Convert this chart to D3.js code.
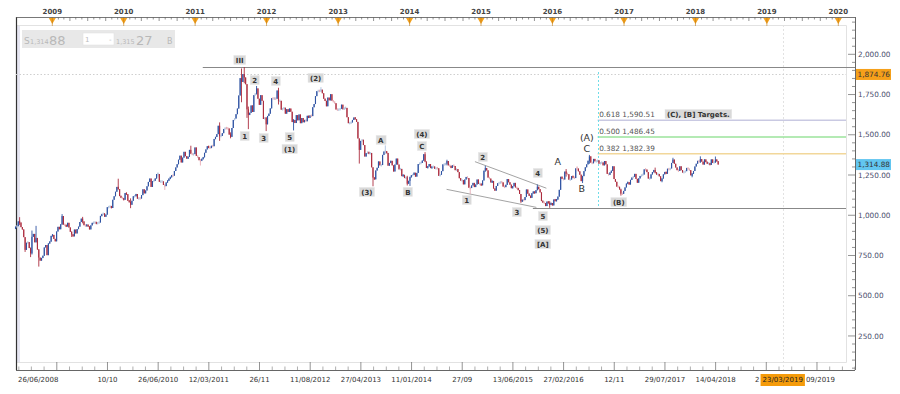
<!DOCTYPE html>
<html><head><meta charset="utf-8">
<script src="https://cdn.jsdelivr.net/npm/d3@7"></script>
<style>
body{margin:0;background:#fff}
svg{display:block}
text{font-family:"DejaVu Sans",Verdana,sans-serif}
</style>
</head><body>
<svg id="c" width="900" height="394"></svg>
<script>
// ---------- DATA (weekly gold, XAU/USD) ----------
const firstOpen = 915;
const yearStarts = ["2008-06-27","2009-01-02","2010-01-01","2011-01-07","2012-01-06","2013-01-04","2014-01-03","2015-01-02","2016-01-01","2017-01-06","2018-01-05"];
const close2008 = [929,932,962,955,926,912,864,785,829,833,796,763,866,884,832,859,787,737,718,735,748,800,815,752,825,836,872];
const close2009 = [878,853,838,899,928,913,944,995,942,939,930,953,924,897,881,869,911,887,914,929,958,979,962,938,934,940,931,912,937,953,954,956,948,953,955,996,1006,1012,991,1004,1050,1051,1056,1045,1096,1118,1146,1176,1162,1119,1110,1104];
const close2010 = [1096,1138,1131,1090,1083,1065,1090,1118,1118,1132,1103,1106,1104,1125,1161,1136,1154,1180,1207,1228,1176,1212,1215,1228,1256,1256,1208,1210,1210,1188,1181,1204,1215,1227,1237,1247,1246,1275,1297,1317,1345,1370,1328,1358,1394,1367,1352,1363,1406,1384,1377,1380,1421];
const close2011 = [1369,1361,1342,1340,1349,1360,1388,1409,1429,1420,1418,1431,1429,1474,1486,1504,1556,1491,1493,1510,1536,1542,1541,1539,1501,1487,1542,1592,1601,1628,1663,1744,1852,1828,1877,1856,1814,1658,1624,1636,1682,1642,1746,1755,1788,1724,1686,1746,1711,1598,1606,1565];
const close2012 = [1617,1631,1664,1727,1725,1725,1724,1775,1711,1711,1656,1662,1668,1631,1659,1642,1663,1643,1579,1592,1573,1622,1590,1626,1572,1604,1578,1592,1584,1618,1605,1620,1616,1671,1691,1740,1771,1773,1772,1780,1758,1724,1711,1677,1731,1714,1752,1712,1705,1696,1657,1656];
const close2013 = [1656,1662,1687,1658,1667,1667,1609,1572,1573,1577,1592,1607,1597,1580,1477,1406,1462,1469,1436,1365,1386,1392,1383,1387,1298,1234,1223,1278,1295,1334,1310,1312,1375,1396,1396,1387,1308,1325,1338,1310,1272,1315,1352,1315,1285,1288,1243,1251,1231,1236,1196,1214];
const close2014 = [1237,1247,1252,1264,1240,1263,1318,1323,1326,1339,1379,1334,1294,1303,1318,1293,1301,1302,1290,1293,1292,1245,1252,1274,1316,1316,1320,1337,1310,1307,1294,1310,1306,1280,1287,1268,1230,1216,1218,1192,1222,1238,1231,1171,1169,1185,1201,1175,1191,1222,1195,1195];
const close2015 = [1186,1216,1277,1293,1279,1234,1228,1204,1213,1166,1153,1182,1199,1200,1207,1204,1178,1175,1189,1225,1205,1190,1168,1180,1201,1173,1168,1157,1132,1086,1095,1094,1113,1160,1134,1121,1108,1137,1146,1137,1156,1177,1162,1142,1088,1081,1076,1057,1085,1075,1066,1076];
const close2016 = [1061,1098,1089,1097,1116,1158,1239,1227,1222,1271,1259,1255,1221,1222,1243,1234,1231,1291,1290,1273,1252,1212,1243,1274,1298,1316,1339,1366,1327,1323,1350,1335,1335,1341,1320,1326,1328,1310,1337,1316,1257,1251,1266,1275,1304,1225,1208,1178,1177,1160,1134,1133,1151];
const close2017 = [1173,1197,1205,1191,1220,1234,1239,1257,1226,1202,1229,1244,1249,1253,1285,1284,1268,1228,1228,1254,1268,1280,1266,1254,1256,1242,1212,1228,1254,1269,1258,1289,1284,1291,1325,1346,1320,1297,1280,1275,1304,1280,1266,1269,1274,1294,1287,1280,1248,1257,1275,1303];
const close2018 = [1320,1338,1332,1349,1333,1315,1347,1330,1322,1323,1313,1347,1325,1332,1345,1336,1315];
// notable weekly extremes [week, high, low]
const wicks = [
 ["2008-07-18",988,940],["2008-08-15",860,772],["2008-09-12",800,740],["2008-09-19",905,756],["2008-10-10",934,831],["2008-10-24",790,681],
 ["2009-02-20",1007,940],["2009-04-10",900,865],["2009-06-05",990,950],["2009-12-04",1227,1160],
 ["2010-02-05",1105,1044],["2010-06-25",1265,1235],["2010-07-30",1190,1157],["2010-12-10",1432,1380],
 ["2011-01-28",1345,1309],["2011-05-06",1577,1462],["2011-07-01",1515,1478],["2011-08-26",1912,1702],["2011-09-09",1921,1820],["2011-09-23",1815,1605],["2011-09-30",1675,1535],["2011-11-11",1803,1750],["2011-12-30",1610,1523],
 ["2012-03-02",1792,1688],["2012-05-18",1597,1527],["2012-10-05",1796,1766],
 ["2013-04-19",1439,1321],["2013-06-28",1298,1180],["2013-08-30",1434,1380],["2013-12-20",1245,1185],
 ["2014-01-03",1240,1182],["2014-03-21",1392,1330],["2014-07-11",1345,1310],["2014-11-07",1175,1131],
 ["2015-01-23",1307,1270],["2015-07-24",1105,1077],["2015-10-16",1191,1155],["2015-12-18",1088,1046],
 ["2016-03-11",1287,1240],["2016-05-06",1304,1275],["2016-06-03",1245,1200],["2016-07-08",1375,1320],["2016-12-16",1165,1122],
 ["2017-06-09",1296,1260],["2017-07-14",1230,1205],["2017-09-08",1357,1325],["2017-12-15",1260,1236],
 ["2018-01-26",1366,1325],["2018-04-13",1365,1325]
];
// axis labels
const yearLabels = ["2009","2010","2011","2012","2013","2014","2015","2016","2017","2018","2019","2020"];
const yTickValues = [250,500,750,1000,1250,1500,1750,2000];
const dateLabels = [
 ["2009-01-24",""],["2009-10-10","10/10"],["2010-06-26","26/06/2010"],["2011-03-12","12/03/2011"],["2011-11-26","26/11"],
 ["2012-08-11","11/08/2012"],["2013-04-27","27/04/2013"],["2014-01-11","11/01/2014"],["2014-09-27","27/09"],
 ["2015-06-13","13/06/2015"],["2016-02-27","27/02/2016"],["2016-11-12","12/11"],["2017-07-29","29/07/2017"],
 ["2018-04-14","14/04/2018"],["2018-12-29",""],["2019-09-14",""]
];
const startLabel = "26/06/2008";
const hiddenLeftFragment = "2";       // visible end of the label covered by the cursor box
const hiddenRightFragment = "09/2019"; // visible end of the label covered by the cursor box
// levels & annotations
const majorHigh = {date:"2011-02-09", value:1921};
const supportLow = {date:"2015-09-23", value:1046};
const fibStart = "2016-08-19";
const fibLevels = [[0.618,1590.51,"#c9c9e2"],[0.500,1486.45,"#9be39b"],[0.382,1382.39,"#f2d79a"]];
const fibTop = 1890;
const lastHigh = 1874.76;
const lastPrice = 1314.88;
const bidPrice = "1,315"; const bidPip = "27";
const askPrice = "1,314"; const askPip = "88";
const crossDate = "2019-03-23"; const crossLabel = "23/03/2019";
const wedgeUpper = [["2014-12-01",1333],["2015-12-01",1168]];
const wedgeLower = [["2014-07-09",1161],["2015-10-11",1049]];
const boxLabels = [
 ["2011-08-17",1965,"III"],["2011-09-11",1492,"1"],["2011-11-01",1840,"2"],["2011-12-17",1480,"3"],["2012-02-17",1834,"4"],
 ["2012-04-28",1486,"5"],["2012-04-28",1412,"(1)"],["2012-09-08",1853,"(2)"],["2013-05-28",1145,"(3)"],["2013-08-07",1468,"A"],
 ["2013-12-23",1145,"B"],["2014-03-05",1505,"(4)"],["2014-03-05",1430,"C"],["2014-10-20",1095,"1"],["2015-01-10",1362,"2"],
 ["2015-07-03",1020,"3"],["2015-10-18",1263,"4"],["2015-11-13",995,"5"],["2015-11-13",908,"(5)"],["2015-11-13",821,"[A]"],
 ["2016-12-05",1082,"(B)"],["2018-01-16",1629,"(C), [B] Targets."]
];
const plainLabels = [["2016-01-28",1337,"A"],["2016-05-30",1169,"B"],["2016-06-25",1412,"C"],["2016-06-25",1486,"(A)"]];

// ---------- CHART ----------
const parse = d3.utcParse("%Y-%m-%d");
const fmtKey = d3.utcFormat("%Y-%m-%d");
const svg = d3.select("#c");
const x = d3.scaleUtc().domain([new Date(Date.UTC(2009,0,1)), new Date(Date.UTC(2020,0,1))]).range([52.3, 838.3]);
const y = d3.scaleLinear().domain([0, 2000]).range([376.2, 54.3]);
const L = 16, R = 846, T = 25, B = 362, AX = 855, TOPR = 17, BOTR = 370;
const numFmt = d3.format(",.2f");
const snap = v => Math.round(v) + 0.5;

// build candles
const closesByYear = [close2008,close2009,close2010,close2011,close2012,close2013,close2014,close2015,close2016,close2017,close2018];
const wickMap = new Map(wicks.map(w => [w[0], w]));
const candles = [];
let prev = firstOpen;
closesByYear.forEach((arr, i) => {
  const start = parse(yearStarts[i]);
  arr.forEach((c, j) => {
    const d = d3.utcDay.offset(start, 7 * j);
    const w = wickMap.get(fmtKey(d));
    candles.push({date: d, open: prev, close: c,
      high: Math.max(prev, c, w ? w[1] : -Infinity),
      low: Math.min(prev, c, w ? w[2] : Infinity)});
    prev = c;
  });
});

// background frame
svg.append("rect").attr("x", L+1).attr("y", T).attr("width", 3).attr("height", B - T).attr("fill", "#e6e6f2");
svg.append("path").attr("d", `M${L},${T + 0.5}H${R + 0.5}V${B + 0.5}H${L}`).attr("fill", "none").attr("stroke", "#e2e2e2").attr("stroke-width", 1);
svg.append("line").attr("x1", L + 0.5).attr("x2", L + 0.5).attr("y1", TOPR).attr("y2", BOTR).attr("stroke", "#333").attr("stroke-width", 1.2);

// crosshair vertical
const cxl = snap(x(parse(crossDate)));
svg.append("line").attr("x1", cxl).attr("x2", cxl).attr("y1", T).attr("y2", BOTR)
  .attr("stroke", "#e2e2e2").attr("stroke-width", 1).attr("stroke-dasharray", "2,2");

// header box
const hdr = svg.append("g");
hdr.append("rect").attr("x", 22).attr("y", 30).attr("width", 153).attr("height", 18).attr("fill", "#e8e8e8");
hdr.append("text").attr("x", 24).attr("y", 44).attr("font-size", 9).attr("fill", "#b8b8b8").text("S");
hdr.append("text").attr("x", 30).attr("y", 44).attr("font-size", 6.5).attr("fill", "#b8b8b8").text(askPrice);
hdr.append("text").attr("x", 49).attr("y", 45).attr("font-size", 13).attr("fill", "#b8b8b8").text(askPip);
hdr.append("rect").attr("x", 83).attr("y", 33).attr("width", 31).attr("height", 12).attr("fill", "#fff").attr("stroke", "#ddd").attr("stroke-width", 0.5);
hdr.append("text").attr("x", 85).attr("y", 42).attr("font-size", 7).attr("fill", "#bbb").text("1");
hdr.append("text").attr("x", 109).attr("y", 42).attr("font-size", 7).attr("fill", "#bbb").text("-");
hdr.append("text").attr("x", 116).attr("y", 44).attr("font-size", 6.5).attr("fill", "#b8b8b8").text(bidPrice);
hdr.append("text").attr("x", 136).attr("y", 45).attr("font-size", 13).attr("fill", "#b8b8b8").text(bidPip);
hdr.append("text").attr("x", 167).attr("y", 44).attr("font-size", 8).attr("fill", "#b8b8b8").text("B");

// horizontal levels
svg.append("line").attr("x1", L).attr("x2", R).attr("y1", snap(y(lastHigh))).attr("y2", snap(y(lastHigh)))
  .attr("stroke", "#cfcfcf").attr("stroke-dasharray", "1.5,2");
svg.append("line").attr("x1", x(parse(majorHigh.date))).attr("x2", AX).attr("y1", snap(y(majorHigh.value))).attr("y2", snap(y(majorHigh.value)))
  .attr("stroke", "#888").attr("stroke-width", 1);
svg.append("line").attr("x1", x(parse(supportLow.date))).attr("x2", R).attr("y1", snap(y(supportLow.value))).attr("y2", snap(y(supportLow.value)))
  .attr("stroke", "#888").attr("stroke-width", 1);
fibLevels.forEach(f => {
  svg.append("line").attr("x1", x(parse(fibStart))).attr("x2", R).attr("y1", y(f[1])).attr("y2", y(f[1]))
    .attr("stroke", f[2]).attr("stroke-width", 1.6);
  svg.append("text").attr("x", x(parse(fibStart)) + 1.5).attr("y", y(f[1]) - 3).attr("font-size", 7.3).attr("fill", "#555")
    .text(f[0].toFixed(3) + " " + numFmt(f[1]));
});
const fx = snap(x(parse(fibStart)));
svg.append("line").attr("x1", fx).attr("x2", fx).attr("y1", y(fibTop)).attr("y2", y(supportLow.value))
  .attr("stroke", "#6fdde8").attr("stroke-width", 1).attr("stroke-dasharray", "2,2");

// wedge lines
[wedgeUpper, wedgeLower].forEach(wl => {
  svg.append("line").attr("x1", x(parse(wl[0][0]))).attr("y1", y(wl[0][1])).attr("x2", x(parse(wl[1][0]))).attr("y2", y(wl[1][1]))
    .attr("stroke", "#999").attr("stroke-width", 0.9);
});

// candles
const step = x(d3.utcDay.offset(candles[0].date, 7)) - x(candles[0].date);
const bw = Math.max(1, step * 0.8);
const cg = svg.append("g");
candles.forEach(c => {
  const up = c.close >= c.open;
  const faded = Math.abs(c.close - c.open) / c.open < 0.006;
  const col = up ? (faded ? "#aec1de" : "#2f53a3") : (faded ? "#e6adb5" : "#ad2c3e");
  const cx = x(c.date);
  cg.append("line").attr("x1", cx).attr("x2", cx).attr("y1", y(c.high)).attr("y2", y(c.low)).attr("stroke", col).attr("stroke-width", 0.9);
  const yt = y(Math.max(c.open, c.close)), yb = y(Math.min(c.open, c.close));
  const h = Math.max(2.5, yb - yt);
  cg.append("rect").attr("x", cx - bw / 2).attr("y", (yt + yb) / 2 - h / 2).attr("width", bw).attr("height", h).attr("fill", col);
});

// Elliott box labels
boxLabels.forEach(b => {
  const g = svg.append("g");
  const t = g.append("text").attr("x", x(parse(b[0]))).attr("y", y(b[1]) + 2.6).attr("text-anchor", "middle")
    .attr("font-size", 7).attr("font-weight", "bold").attr("fill", "#333").text(b[2]);
  const bb = t.node().getBBox();
  g.insert("rect", "text").attr("x", bb.x - 2).attr("y", y(b[1]) - 4.5).attr("width", bb.width + 4).attr("height", 9)
    .attr("fill", "#d9d9d9").attr("stroke", "#e8e8e8").attr("stroke-width", 0.5);
});
plainLabels.forEach(p => {
  svg.append("text").attr("x", x(parse(p[0]))).attr("y", y(p[1]) + 3.5).attr("text-anchor", "middle")
    .attr("font-size", 9.5).attr("fill", "#333").text(p[2]);
});

// ---------- TOP RULER ----------
const topG = svg.append("g");
topG.append("line").attr("x1", L).attr("x2", AX).attr("y1", TOPR + 0.5).attr("y2", TOPR + 0.5).attr("stroke", "#555").attr("stroke-width", 0.8);
x.ticks(d3.utcMonth.every(1)).forEach(d => {
  if (x(d) < L || x(d) > AX) return;
  const q = d.getUTCMonth() % 3 === 0;
  topG.append("line").attr("x1", x(d)).attr("x2", x(d)).attr("y1", TOPR).attr("y2", TOPR + (q ? 4 : 2.5))
    .attr("stroke", "#666").attr("stroke-width", 0.7);
});
yearLabels.forEach(yl => {
  const d = new Date(Date.UTC(+yl, 0, 1));
  const px = x(d);
  topG.append("path").attr("d", `M${px - 3.5},${TOPR + 1}H${px + 3.5}L${px},${TOPR + 7}Z`).attr("fill", "#f4a21e");
  topG.append("line").attr("x1", px).attr("x2", px).attr("y1", TOPR).attr("y2", TOPR + 9).attr("stroke", "#c07a10").attr("stroke-width", 0.6);
  topG.append("text").attr("x", px).attr("y", 14).attr("text-anchor", "middle").attr("font-size", 7)
    .attr("font-weight", "bold").attr("fill", "#444").text(yl);
});

// ---------- RIGHT AXIS ----------
const ra = svg.append("g");
ra.append("line").attr("x1", AX + 0.5).attr("x2", AX + 0.5).attr("y1", TOPR).attr("y2", BOTR).attr("stroke", "#555").attr("stroke-width", 0.9);
d3.range(50, 2201, 50).forEach(v => {
  if (y(v) < TOPR + 2) return;
  const major = yTickValues.includes(v);
  ra.append("line").attr("x1", AX - (major ? 7 : 3)).attr("x2", AX).attr("y1", y(v)).attr("y2", y(v))
    .attr("stroke", "#666").attr("stroke-width", 0.7);
});
yTickValues.forEach(v => {
  ra.append("text").attr("x", AX + 3).attr("y", y(v) + 2.6).attr("font-size", 7.3).attr("fill", "#4a4e6e").text(numFmt(v));
});
[[lastHigh, "#f5a01a"], [lastPrice, "#62c6f0"]].forEach(p => {
  ra.append("rect").attr("x", AX + 1).attr("y", y(p[0]) - 5.5).attr("width", 35).attr("height", 11).attr("fill", p[1]);
  ra.append("text").attr("x", AX + 2.5).attr("y", y(p[0]) + 2.6).attr("font-size", 7.3).attr("fill", "#333").text(numFmt(p[0]));
});

// ---------- BOTTOM RULER ----------
const bot = svg.append("g");
bot.append("line").attr("x1", L).attr("x2", AX).attr("y1", BOTR + 0.5).attr("y2", BOTR + 0.5).attr("stroke", "#555").attr("stroke-width", 0.9);
dateLabels.forEach((dl, i) => {
  const d = parse(dl[0]);
  const px = x(d);
  bot.append("line").attr("x1", px).attr("x2", px).attr("y1", BOTR).attr("y2", BOTR - 8).attr("stroke", "#666").attr("stroke-width", 0.7);
  for (let k = 1; k < 4; k++) {
    const sx = x(d3.utcDay.offset(d, Math.round(259 * k / 4)));
    if (sx < AX) bot.append("line").attr("x1", sx).attr("x2", sx).attr("y1", BOTR).attr("y2", BOTR - 3.5).attr("stroke", "#777").attr("stroke-width", 0.6);
  }
  if (i === 0) for (let k = 1; k < 4; k++) {
    const sx = x(d3.utcDay.offset(d, -Math.round(259 * k / 4)));
    if (sx > L) bot.append("line").attr("x1", sx).attr("x2", sx).attr("y1", BOTR).attr("y2", BOTR - 3.5).attr("stroke", "#777").attr("stroke-width", 0.6);
  }
  if (dl[1]) bot.append("text").attr("x", px).attr("y", 382).attr("text-anchor", "middle").attr("font-size", 7).attr("fill", "#333").text(dl[1]);
});
bot.append("text").attr("x", L + 2).attr("y", 382).attr("font-size", 7).attr("fill", "#333").text(startLabel);
const cx0 = x(parse(crossDate));
const ct = bot.append("text").attr("x", cx0).attr("y", 382).attr("text-anchor", "middle").attr("font-size", 7).attr("fill", "#222").text(crossLabel);
const cb = ct.node().getBBox();
bot.insert("rect", "text").attr("x", cb.x - 2).attr("y", 374).attr("width", cb.width + 4).attr("height", 12).attr("fill", "#f59b0a");
bot.append("text").attr("x", cb.x - 3).attr("y", 382).attr("text-anchor", "end").attr("font-size", 7).attr("fill", "#333").text(hiddenLeftFragment);
bot.append("text").attr("x", cb.x + cb.width + 3).attr("y", 382).attr("font-size", 7).attr("fill", "#333").text(hiddenRightFragment);
</script>
</body></html>
